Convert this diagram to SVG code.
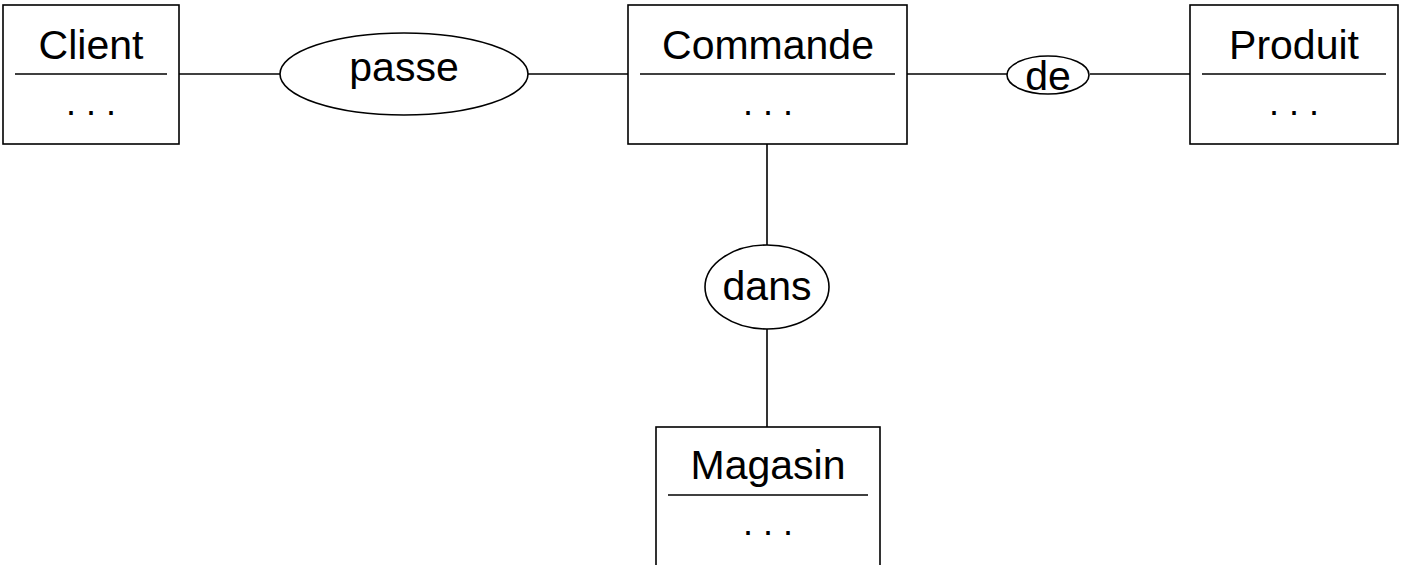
<svg xmlns="http://www.w3.org/2000/svg" width="1420" height="565" viewBox="0 0 1420 565">
<style>
.box{fill:#fff;stroke:#000;stroke-width:1.6}
.rel{fill:#fff;stroke:#000;stroke-width:1.6}
.div{stroke:#000;stroke-width:1.4}
.conn line{stroke:#000;stroke-width:1.6}
text{font-family:"Liberation Sans",Arial,sans-serif;font-size:41px;fill:#000;text-anchor:middle}
text.dots{font-size:36px}
</style>
<rect width="1420" height="565" fill="#fff"/>
<g id="connectors" class="conn">
<line x1="179" y1="74" x2="280" y2="74"/>
<line x1="528" y1="74" x2="628" y2="74"/>
<line x1="907" y1="74" x2="1007" y2="74"/>
<line x1="1090" y1="74" x2="1190" y2="74"/>
<line x1="767" y1="144" x2="767" y2="245"/>
<line x1="767" y1="329" x2="767" y2="427"/>
</g>
<g id="client">
<rect class="box" x="3" y="5" width="176" height="139"/>
<text x="91" y="59">Client</text>
<line class="div" x1="15" y1="74" x2="167" y2="74"/>
<text class="dots" x="91" y="115">. . .</text>
</g>
<g id="passe">
<ellipse class="rel" cx="404" cy="74" rx="124" ry="41"/>
<text x="404" y="81">passe</text>
</g>
<g id="commande">
<rect class="box" x="628" y="5" width="279" height="139"/>
<text x="768" y="59">Commande</text>
<line class="div" x1="640" y1="74" x2="895" y2="74"/>
<text class="dots" x="768" y="115">. . .</text>
</g>
<g id="de">
<ellipse class="rel" cx="1048" cy="75" rx="41" ry="19"/>
<text x="1048" y="90">de</text>
</g>
<g id="produit">
<rect class="box" x="1190" y="5" width="208" height="139"/>
<text x="1294" y="59">Produit</text>
<line class="div" x1="1202" y1="74" x2="1386" y2="74"/>
<text class="dots" x="1294" y="115">. . .</text>
</g>
<g id="dans">
<ellipse class="rel" cx="767" cy="287" rx="62" ry="42"/>
<text x="767" y="300">dans</text>
</g>
<g id="magasin">
<rect class="box" x="656" y="427" width="224" height="145"/>
<text x="768" y="479">Magasin</text>
<line class="div" x1="668" y1="495" x2="868" y2="495"/>
<text class="dots" x="768" y="535">. . .</text>
</g>
</svg>
